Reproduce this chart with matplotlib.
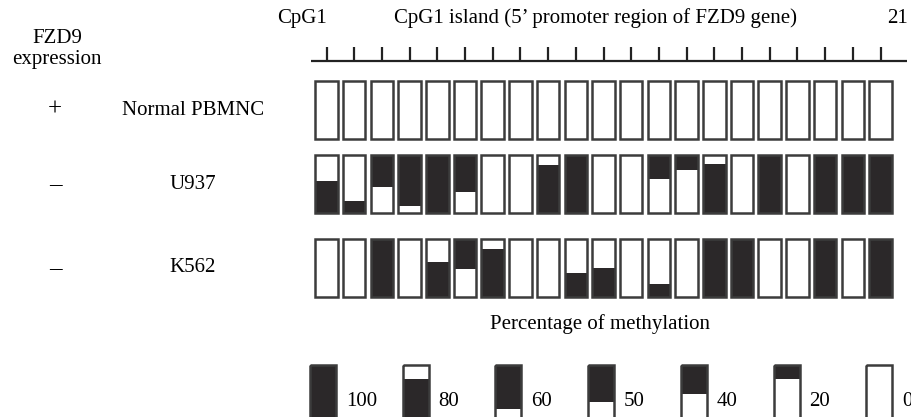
# -*- coding: utf-8 -*-
"""CpG methylation map of the FZD9 promoter (21 CpG sites) in three cell types.

Each box is one CpG site; the black share of the box is the percentage of
methylation. Legend boxes at the bottom show the reference percentages.
"""
import numpy as np
import matplotlib
matplotlib.use('Agg')
import matplotlib.pyplot as plt

plt.rcParams['font.family'] = ['Liberation Serif', 'DejaVu Serif']

# ---- data -------------------------------------------------------------------
CELL_LINES = ['Normal PBMNC', 'U937', 'K562']
EXPRESSION = ['+', '–', '–']

# percentage of methylation per CpG site (1..21)
NORMAL_PCT = [0] * 21
U937_PCT = [55, 20, 55, 88, 100, 63, 0, 0, 83, 100, 0,
            0, 42, 25, 85, 0, 100, 0, 100, 100, 100]
K562_PCT = [0, 0, 100, 0, 60, 52, 82, 0, 0, 42, 50,
            0, 22, 0, 100, 100, 0, 0, 100, 0, 100]
# side of the box the black part sits on: b = bottom, t = top
NORMAL_SIDE = 'b' * 21
U937_SIDE = 'bbttbtbbbbbbttbbbbbbb'
K562_SIDE = 'bbbbbtbbbbbbbbbbbbbbb'

LEGEND_PCT = [100, 80, 60, 50, 40, 20, 0]
LEGEND_SIDE = 'bbttttb'

# ---- layout (pixel space, y down) --------------------------------------------
W, H = 911, 417
X0, PITCH, BOX_W, BOX_H = 326.5, 27.7, 22.5, 58
ROW_TOPS = [81, 155, 239]
LEG_X0, LEG_STEP, LEG_W, LEG_H, LEG_TOP = 310, 92.7, 26, 74, 364.5

BLACK = '#2b2829'
EDGE = '#3c3c3c'
FS = 15


def draw_boxes(ax, centers, top, width, height, pct, side):
    pct = np.asarray(pct, dtype=float) / 100.0
    tops = np.full(len(pct), float(top))
    ax.bar(centers, height, bottom=tops, width=width, color='white',
           edgecolor='none', zorder=2)
    fill_h = pct * height
    fill_bottom = np.where(np.array(list(side)) == 't', tops,
                           tops + height - fill_h)
    ax.bar(centers, fill_h, bottom=fill_bottom, width=width, color=BLACK,
           edgecolor='none', zorder=3)
    ax.bar(centers, height, bottom=tops, width=width, fill=False,
           edgecolor=EDGE, linewidth=1.8, zorder=4)


def main():
    fig = plt.figure(figsize=(W / 100, H / 100), dpi=100)
    ax = fig.add_axes([0, 0, 1, 1])
    ax.set_xlim(0, W)
    ax.set_ylim(H, 0)
    ax.axis('off')

    n = len(U937_PCT)
    centers = X0 + PITCH * np.arange(n)

    # header and CpG axis
    ax.text(302, 18, 'CpG1', fontsize=FS, ha='center', va='center')
    ax.text(595, 18, 'CpG1 island (5’ promoter region of FZD9 gene)',
            fontsize=FS, ha='center', va='center')
    ax.text(897, 18, '21', fontsize=FS, ha='center', va='center')
    ax.plot([311, 907], [60.7, 60.7], color='#222222', lw=1.6,
            solid_capstyle='butt')
    ax.vlines(centers, 46.5, 60.7, color='#222222', lw=1.6)

    ax.text(57, 38, 'FZD9', fontsize=FS, ha='center', va='center')
    ax.text(57, 59, 'expression', fontsize=FS, ha='center', va='center')

    rows = [(NORMAL_PCT, NORMAL_SIDE), (U937_PCT, U937_SIDE),
            (K562_PCT, K562_SIDE)]
    for (pct, side), top, name, expr in zip(rows, ROW_TOPS, CELL_LINES,
                                            EXPRESSION):
        draw_boxes(ax, centers, top, BOX_W, BOX_H, pct, side)
        yc = top + BOX_H / 2
        ax.text(55, yc, expr, fontsize=FS + 3, ha='center', va='center')
        ax.text(193, yc, name, fontsize=FS, ha='center', va='center')

    # legend
    ax.text(600, 324, 'Percentage of methylation', fontsize=FS,
            ha='center', va='center')
    lx = LEG_X0 + LEG_STEP * np.arange(len(LEGEND_PCT))
    draw_boxes(ax, lx + LEG_W / 2, LEG_TOP, LEG_W, LEG_H, LEGEND_PCT,
               LEGEND_SIDE)
    for x, p in zip(lx, LEGEND_PCT):
        ax.text(x + LEG_W + 10, 401, str(p), fontsize=FS, ha='left',
                va='center')

    fig.savefig('out.png', dpi=100)


if __name__ == '__main__':
    main()
